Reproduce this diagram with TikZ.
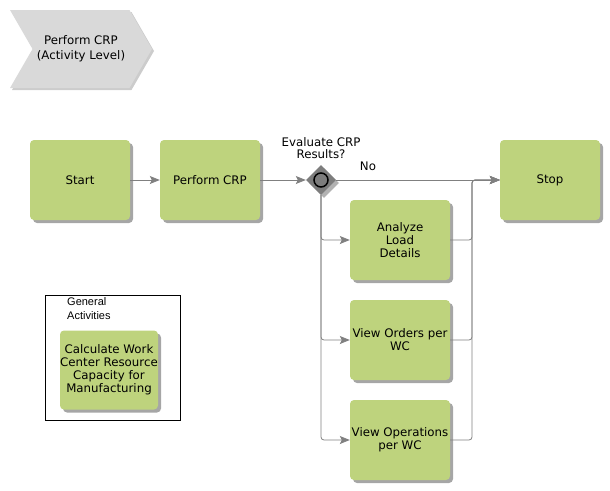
\documentclass[tikz,border=0pt]{standalone}
\usepackage{fontspec}
\setmainfont{DejaVu Sans}
\newfontfamily\arialfont{Liberation Sans}
\usepackage{tikz}
\usetikzlibrary{shapes.geometric,shapes.symbols,shadows,arrows.meta}
\definecolor{taskgreen}{RGB}{190,211,125}
\definecolor{linegray}{RGB}{128,128,128}
\definecolor{gategray}{RGB}{125,125,125}
\definecolor{chevgray}{RGB}{217,217,217}
\tikzstyle{task}=[fill=taskgreen, rounded corners=4pt, minimum width=100pt, minimum height=80pt,
  align=center, font=\fontsize{11.8}{13}\selectfont, inner sep=0pt,
  drop shadow={shadow xshift=3pt, shadow yshift=-3pt, fill=black!35, opacity=1}]
\tikzstyle{gate}=[diamond, fill=gategray, minimum width=30pt, minimum height=30pt, inner sep=0pt,
  drop shadow={shadow xshift=3pt, shadow yshift=-3pt, fill=black!30, opacity=1}]
\tikzstyle{flow}=[color=linegray, line width=0.8pt, rounded corners=3pt,
  >={Stealth[length=10pt, width=8pt, inset=2pt]}]

\begin{document}
\begin{tikzpicture}[x=1pt, y=1pt]
            \useasboundingbox (0,0) rectangle (610,-490);
            \node [signal, signal to=east, signal from=west, signal pointer angle=120,
              fill=chevgray, minimum width=142pt, minimum height=78pt, inner sep=0pt,
              align=center, font=\fontsize{11.8}{15}\selectfont,
              drop shadow={shadow xshift=2pt, shadow yshift=-2pt, fill=black!20, opacity=1}]
              (level) at (81,-49) {Perform CRP\\(Activity Level)};
            \node [task] (start) at (80,-180) {Start};
            \node [task, right of=start, node distance=130pt] (crp) {Perform CRP};
            \node [gate, right of=crp, node distance=111pt] (eval) {};
            \node [circle, draw=black, line width=1.5pt, fill=gategray, minimum size=14pt, inner sep=0pt] (evalmark) at (eval) {};
            \node [above of=eval, node distance=32pt, align=center, font=\fontsize{11.8}{12.5}\selectfont] (evallabel) {Evaluate CRP\\Results?};
            \node [task, right of=eval, node distance=229pt] (stop) {Stop};
            \node [task] (load) at (400,-240) {Analyze\\Load\\Details};
            \node [task, below of=load, node distance=100pt] (orders) {View Orders per\\WC};
            \node [task, below of=orders, node distance=100pt] (ops) {View Operations\\per WC};
            \node [font=\fontsize{11.8}{12}\selectfont] (no) at (368,-166) {No};
            \coordinate (join) at (472,-180);
            % general activities
            \node [draw=black, line width=0.8pt, minimum width=135pt, minimum height=125pt] (general) at (112.5,-357.5) {};
            \node [anchor=north west, align=left, inner sep=0pt, font=\arialfont\fontsize{11}{14}\selectfont] (generallabel) at (67,-297) {General\\Activities};
            \node [task, minimum width=98pt, minimum height=79pt] (capacity) at (109,-370) {Calculate Work\\Center Resource\\Capacity for\\Manufacturing};
            \path[flow, ->] (start) edge (crp);
            \path[flow, ->] (crp) edge (eval);
            \path[flow, ->] (eval) edge (stop);
            \draw[flow, ->] (eval.south) |- (load.west);
            \draw[flow, ->] (eval.south) |- (orders.west);
            \draw[flow, ->] (eval.south) |- (ops.west);
            \draw[flow, ->] (load.east) -| (join) -- (stop.west);
            \draw[flow, ->] (orders.east) -| (join) -- (stop.west);
            \draw[flow, ->] (ops.east) -| (join) -- (stop.west);
        \end{tikzpicture}
\end{document}
